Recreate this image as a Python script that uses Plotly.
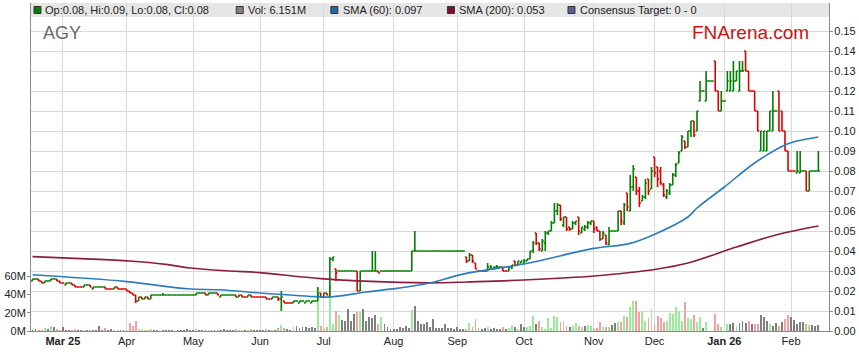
import pandas as pd
import plotly.graph_objects as go

FONT = "Liberation Sans, Arial, sans-serif"

# ---------------- data ----------------
# trading days (weekdays) shown on the chart
dates = pd.bdate_range("2025-02-17", "2026-02-13")
month_labels = ["<b>Mar 25</b>", "Apr", "May", "Jun", "Jul", "Aug", "Sep",
                "Oct", "Nov", "Dec", "<b>Jan 26</b>", "Feb"]

# prices in thousandths of a dollar (25 = 0.025)
open_milli = [
    25, 26, 26, 25, 24, 25, 25, 26, 26, 25,
    24, 23, 24, 24, 23, 22, 22, 22, 23, 23, 21, 22, 22, 22, 22, 21, 21, 21, 22, 21, 21,
    21, 20, 19, 18, 15, 17, 16, 17, 16, 18, 18, 18, 18, 18, 18, 18, 18, 18, 18, 18, 18, 18,
    18, 18, 19, 19, 19, 18, 19, 19, 19, 17, 18, 18, 18, 18, 18, 17, 18, 17, 17, 18, 17, 17,
    17, 17, 17, 16, 16, 17, 17, 16, 15, 14, 14, 14, 15, 14, 15, 14, 15, 14, 15, 15, 19,
    17, 19, 17, 36, 31, 30, 30, 30, 30, 30, 30, 30, 20, 30, 30, 30, 30, 30, 30, 30, 30, 30, 30,
    30, 30, 30, 30, 30, 30, 30, 40, 40, 40, 40, 40, 40, 40, 40, 40, 40, 40, 40, 40, 40,
    40, 40, 40, 37, 35, 38, 34, 30, 30, 30, 30, 31, 31, 32, 32, 32, 30, 30, 32, 35, 33, 34,
    34, 35, 36, 40, 49, 44, 40, 44, 49, 50, 54, 60, 63, 53, 57, 52, 51, 54, 57, 49, 51, 52, 54,
    55, 52, 50, 46, 48, 43, 50, 50, 50, 60, 54, 69, 60, 72, 77, 70, 65, 67, 76, 71,
    87, 82, 80, 73, 67, 69, 73, 78, 84, 90, 95, 92, 100, 105, 100, 115, 120, 115, 125, 125, 135, 120, 110,
    115, 120, 120, 120, 125, 120, 130, 140, 130, 120, 120, 110, 90, 90, 90, 100, 100, 110, 120, 110, 100, 90,
    80, 80, 79, 79, 80, 80, 70, 80, 80, 80,
]
high_milli = [
    26, 26, 26, 25, 25, 25, 26, 26, 26, 25,
    24, 24, 24, 24, 23, 22, 22, 23, 23, 23, 22, 22, 22, 22, 22, 21, 21, 22, 22, 21, 21,
    21, 20, 19, 18, 17, 17, 17, 17, 18, 18, 18, 18, 19, 18, 18, 18, 18, 18, 18, 18, 18, 18,
    18, 19, 19, 19, 19, 19, 19, 19, 19, 18, 18, 18, 18, 18, 18, 18, 18, 17, 18, 18, 17, 17,
    17, 17, 17, 16, 17, 17, 17, 20, 15, 14, 14, 15, 15, 15, 15, 15, 15, 15, 15, 22, 19,
    19, 19, 37, 37, 31, 30, 30, 30, 30, 30, 30, 30, 30, 30, 30, 30, 40, 40, 30, 30, 30, 30, 30,
    30, 30, 30, 30, 30, 30, 40, 50, 40, 40, 40, 40, 40, 40, 40, 40, 40, 40, 40, 40, 40,
    40, 40, 40, 37, 39, 38, 34, 30, 30, 30, 34, 33, 32, 33, 32, 32, 30, 32, 33, 35, 35, 35,
    36, 36, 40, 45, 49, 44, 46, 50, 50, 55, 64, 64, 63, 57, 57, 52, 55, 55, 57, 52, 53, 55, 55,
    55, 52, 50, 50, 48, 52, 50, 50, 60, 60, 64, 69, 78, 83, 77, 72, 68, 76, 76, 82,
    87, 82, 82, 74, 71, 74, 79, 84, 90, 98, 95, 100, 105, 105, 110, 125, 120, 130, 125, 125, 135, 120, 120,
    115, 130, 130, 135, 130, 135, 135, 140, 130, 120, 120, 110, 100, 100, 100, 110, 120, 110, 120, 110, 100, 90,
    80, 80, 90, 90, 80, 80, 80, 80, 80, 90,
]
low_milli = [
    25, 26, 25, 24, 24, 25, 25, 26, 25, 24,
    24, 23, 24, 23, 22, 22, 22, 22, 23, 22, 21, 22, 22, 22, 21, 21, 21, 21, 21, 21, 21,
    20, 19, 18, 14, 15, 16, 16, 16, 16, 18, 18, 18, 18, 18, 18, 18, 18, 18, 18, 18, 18, 18,
    18, 18, 19, 19, 18, 18, 19, 19, 18, 17, 18, 18, 18, 18, 17, 17, 17, 17, 17, 17, 17, 17,
    17, 17, 16, 16, 16, 17, 15, 10, 14, 14, 14, 14, 15, 14, 15, 14, 15, 14, 15, 15, 17,
    17, 18, 17, 35, 25, 30, 30, 30, 30, 30, 30, 20, 20, 30, 30, 30, 30, 30, 29, 30, 30, 30, 30,
    30, 30, 30, 30, 30, 30, 30, 40, 40, 40, 40, 40, 40, 40, 40, 40, 40, 40, 40, 40, 40,
    40, 40, 40, 34, 35, 34, 31, 30, 30, 30, 30, 31, 31, 31, 32, 30, 30, 30, 31, 33, 33, 34,
    34, 35, 36, 39, 43, 40, 40, 40, 48, 50, 54, 58, 55, 52, 50, 50, 51, 53, 48, 49, 50, 51, 53,
    49, 50, 45, 46, 43, 43, 50, 50, 50, 53, 53, 60, 60, 70, 68, 62, 65, 66, 68, 71,
    77, 72, 73, 67, 66, 68, 73, 77, 84, 90, 91, 92, 97, 97, 100, 115, 120, 115, 125, 125, 120, 110, 110,
    115, 120, 120, 120, 125, 120, 130, 130, 120, 120, 110, 100, 90, 90, 90, 100, 100, 110, 100, 100, 90, 80,
    80, 80, 79, 79, 80, 70, 70, 80, 80, 80,
]
close_milli = [
    26, 26, 25, 24, 25, 25, 26, 26, 25, 24,
    24, 24, 24, 23, 22, 22, 22, 23, 23, 22, 22, 22, 22, 22, 21, 21, 21, 22, 21, 21, 21,
    20, 19, 18, 15, 17, 16, 17, 16, 18, 18, 18, 18, 18, 18, 18, 18, 18, 18, 18, 18, 18, 18,
    18, 19, 19, 19, 18, 19, 19, 19, 18, 18, 18, 18, 18, 18, 17, 18, 17, 17, 18, 17, 17, 17,
    17, 17, 16, 16, 17, 17, 16, 17, 14, 14, 14, 15, 15, 15, 15, 15, 15, 15, 15, 18, 17,
    19, 18, 36, 37, 29, 30, 30, 30, 30, 30, 30, 20, 30, 30, 30, 30, 30, 30, 29, 30, 30, 30, 30,
    30, 30, 30, 30, 30, 30, 40, 40, 40, 40, 40, 40, 40, 40, 40, 40, 40, 40, 40, 40, 40,
    40, 40, 40, 35, 38, 35, 31, 30, 30, 30, 32, 32, 32, 32, 32, 30, 30, 32, 33, 33, 35, 35,
    35, 36, 40, 44, 44, 41, 45, 49, 50, 54, 60, 63, 56, 57, 51, 51, 54, 55, 50, 52, 52, 54, 55,
    51, 50, 46, 49, 44, 50, 50, 50, 60, 55, 63, 62, 72, 81, 70, 64, 67, 74, 70, 80,
    79, 76, 74, 68, 70, 73, 78, 83, 89, 97, 92, 100, 105, 98, 110, 120, 120, 125, 125, 125, 120, 110, 115,
    115, 125, 125, 125, 130, 130, 130, 130, 120, 120, 110, 100, 100, 100, 100, 110, 110, 110, 100, 100, 90, 80,
    80, 80, 80, 80, 80, 70, 80, 80, 80, 80,
]
# volume in millions of shares
volume_m = [
    1.5, 2, 1, 1.5, 3, 2, 5, 4.5, 2, 1,
    4, 1, 1.5, 1, 2, 1, 1, 1.5, 1, 1, 1, 1.5, 6, 1.5, 3, 1, 2, 1, 1.5, 1, 1,
    1, 9, 5, 11, 2, 1, 1, 1, 2.5, 1, 1, 0.5, 1, 1, 1, 1, 0.5, 1, 1, 1, 2, 1,
    1, 2, 1, 1, 2, 1, 1, 1.5, 1, 1, 2, 1, 1, 1, 2, 1, 1.5, 1, 1, 2, 1, 1,
    1, 1, 2, 1, 1, 1.5, 3, 7, 3, 2, 1, 4, 6, 3, 4, 4, 3.5, 4, 3, 47, 5,
    3, 4, 50, 8, 21.6, 18, 12, 11, 24, 11, 19, 21, 21, 24, 11, 15, 14, 17, 8, 15, 8, 4, 2,
    2, 2, 4, 3, 6, 3, 23, 27, 11, 8, 8, 9.5, 4, 13, 3, 3.5, 3, 7.6, 3, 3.5, 2.5,
    4, 2.5, 2, 2, 8.7, 4, 13, 3, 2, 3, 4, 2, 3, 2, 2, 4, 2, 3, 6.5, 4.7, 2.2, 7.6,
    4.7, 4.7, 5.8, 16.7, 7.6, 11, 4, 2, 14.5, 3.6, 16.7, 15.6, 9.5, 11, 5.8, 4, 5.8, 8.4, 5.8, 4, 5.8, 6.5, 5.8,
    2.2, 2.9, 9.5, 4, 4.7, 4.7, 6.5, 8.4, 10, 9.5, 16.7, 15.6, 25.8, 33, 33, 21, 22, 11, 14.5, 24,
    7.6, 16, 13.8, 9.5, 11, 19.6, 18.5, 25.8, 22, 11, 32, 13.8, 13, 17.5, 10, 14.9, 2.9, 9.5, 0, 0, 19, 7.6, 4,
    0, 7.6, 7.6, 8.4, 5.8, 8.4, 11, 8.4, 11, 7.6, 7.6, 7.6, 17.5, 14.9, 11, 7.6, 5.8, 8.4, 5.8, 9.5, 13, 17.5,
    14.9, 12.4, 7.6, 9.5, 9.5, 7.6, 6.9, 6.9, 5.8, 6.151,
]

# moving averages (trading-day index, value)
sma60_day = [0, 31, 51, 62, 75, 93, 98, 110, 120, 128, 131, 143, 162, 185, 197, 206, 216, 219, 228, 238, 248, 252, 259]
sma60_val = [0.0281, 0.0247, 0.0211, 0.0206, 0.0190, 0.0172, 0.0170, 0.0195, 0.0213, 0.0232, 0.0240, 0.0288,
             0.0335, 0.0413, 0.0438, 0.0490, 0.0570, 0.0615, 0.0720, 0.0840, 0.0930, 0.0950, 0.0970]
sma200_day = [0, 16, 32, 44, 52, 65, 75, 95, 121, 134, 143, 162, 185, 206, 216, 232, 245, 259]
sma200_val = [0.0372, 0.0362, 0.0350, 0.0333, 0.0315, 0.0300, 0.0292, 0.0262, 0.0243, 0.0241, 0.0245,
              0.0255, 0.0275, 0.0310, 0.0340, 0.0420, 0.0480, 0.0525]

price_ticks = [0.00, 0.01, 0.02, 0.03, 0.04, 0.05, 0.06, 0.07, 0.08, 0.09, 0.10, 0.11, 0.12, 0.13, 0.14, 0.15]
volume_ticks = [0, 20, 40, 60]

legend_items = ["Op:0.08, Hi:0.09, Lo:0.08, Cl:0.08", "Vol: 6.151M", "SMA (60): 0.097",
                "SMA (200): 0.053", "Consensus Target: 0 - 0"]

# ---------------- build ----------------
n = len(dates)
assert all(len(a) == n for a in (open_milli, high_milli, low_milli, close_milli, volume_m))
x = list(range(n))
o = [v / 1000 for v in open_milli]
h = [v / 1000 for v in high_milli]
l = [v / 1000 for v in low_milli]
c = [v / 1000 for v in close_milli]

month_idx = [i for i in range(1, n) if dates[i].month != dates[i - 1].month]

GREEN_V, RED_V, GRAY_V = "#98ee98", "#f5a0a0", "#7f7f7f"
vol_colors = []
for i in range(n):
    if i == 0 or close_milli[i] == close_milli[i - 1]:
        vol_colors.append(GRAY_V)
    elif close_milli[i] > close_milli[i - 1]:
        vol_colors.append(GREEN_V)
    else:
        vol_colors.append(RED_V)

fig = go.Figure()
fig.add_trace(go.Bar(x=x, y=volume_m, marker=dict(color=vol_colors, line=dict(width=0)),
                     width=0.62, yaxis="y", hoverinfo="skip"))
fig.add_trace(go.Scatter(x=sma200_day, y=sma200_val, mode="lines", yaxis="y2",
                         line=dict(color="#8c1d40", width=1.6, shape="spline"), hoverinfo="skip"))
fig.add_trace(go.Scatter(x=sma60_day, y=sma60_val, mode="lines", yaxis="y2",
                         line=dict(color="#2d7dbd", width=1.6, shape="spline"), hoverinfo="skip"))
fig.add_trace(go.Ohlc(x=x, open=o, high=h, low=l, close=c, yaxis="y2", tickwidth=0.5,
                      increasing=dict(line=dict(color="#008000", width=1.6)),
                      decreasing=dict(line=dict(color="#dd0000", width=1.6)),
                      hoverinfo="skip"))

# layout geometry (pixels)
L, R, T, B = 31, 27, 3, 32
W, H = 859, 363
PW, PH = W - L - R, H - T - B


def px_x(xp):
    return (xp - L) / PW


def px_y(yp):
    return (H - B - yp) / PH


shapes = [dict(type="rect", xref="paper", yref="paper", x0=0, x1=1, y0=px_y(17), y1=1,
               fillcolor="#e6e6e6", line=dict(width=0), layer="below")]
annotations = []
sq_left = [34, 237, 332, 449, 570]
txt_left = [43, 247, 342, 459, 580]
sq_fill = ["#008000", "#808080", "#1f6aa8", "#7b1030", "#5b5e8e"]
for sx, tx, col, label in zip(sq_left, txt_left, sq_fill, legend_items):
    shapes.append(dict(type="rect", xref="paper", yref="paper", x0=px_x(sx), x1=px_x(sx + 7),
                       y0=px_y(13.5), y1=px_y(6.5), fillcolor=col,
                       line=dict(color="#333333", width=1), layer="above"))
    annotations.append(dict(xref="paper", yref="paper", x=px_x(tx), y=px_y(10), text=label,
                            showarrow=False, xanchor="left", yanchor="middle",
                            font=dict(family=FONT, size=11, color="#222222")))
annotations.append(dict(xref="paper", yref="paper", x=px_x(41), y=px_y(33), text="AGY",
                        showarrow=False, xanchor="left", yanchor="middle",
                        font=dict(family=FONT, size=18, color="#6a6a6a")))
annotations.append(dict(xref="paper", yref="paper", x=px_x(692), y=px_y(33), text="FNArena.com",
                        showarrow=False, xanchor="left", yanchor="middle",
                        font=dict(family=FONT, size=19, color="#c81414")))

fig.update_layout(
    width=W, height=H, autosize=False,
    margin=dict(l=L, r=R, t=T, b=B, pad=0),
    paper_bgcolor="white", plot_bgcolor="white",
    showlegend=False, bargap=0,
    font=dict(family=FONT, size=11, color="#222222"),
    xaxis=dict(range=[-0.49, 262.5], tickmode="array", tickvals=month_idx, ticktext=month_labels,
               showgrid=True, gridcolor="#d9d9d9", gridwidth=1, showline=True, linecolor="#8a8a8a",
               linewidth=1, ticks="", zeroline=False, rangeslider=dict(visible=False),
               fixedrange=True, tickfont=dict(family=FONT, size=11, color="#222222")),
    yaxis=dict(side="left", range=[0, 358], tickmode="array", tickvals=volume_ticks,
               ticktext=[f"{v}M" for v in volume_ticks], showgrid=False, showline=True,
               linecolor="#8a8a8a", linewidth=1, ticks="outside", ticklen=3, tickcolor="#8a8a8a",
               zeroline=False, fixedrange=True, ticklabelstandoff=-1,
               tickfont=dict(family=FONT, size=11, color="#222222")),
    yaxis2=dict(side="right", overlaying="y", range=[0, 0.164], tickmode="array", tickvals=price_ticks,
                ticktext=[f"{v:.2f}" for v in price_ticks], showgrid=True, gridcolor="#d9d9d9",
                gridwidth=1, showline=True, linecolor="#8a8a8a", linewidth=1, ticks="outside",
                ticklen=3, tickcolor="#8a8a8a", zeroline=False, fixedrange=True,
                ticklabeloverflow="allow", ticklabelstandoff=-1,
                tickfont=dict(family=FONT, size=11, color="#222222")),
    shapes=shapes, annotations=annotations,
)

fig.write_html("out.html", config={"displayModeBar": False, "staticPlot": True},
               post_script="document.body.style.margin='0px';document.body.style.padding='0px';")
